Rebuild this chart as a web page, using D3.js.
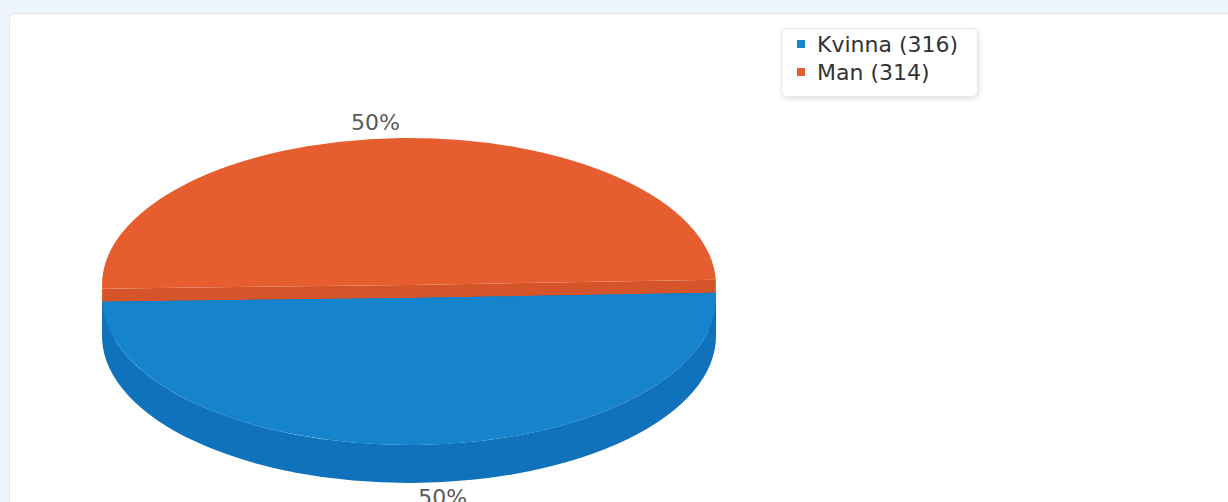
<!DOCTYPE html>
<html><head><meta charset="utf-8">
<script src="https://cdn.jsdelivr.net/npm/d3@7"></script>
<style>
html,body{margin:0;padding:0;background:#edf4fc;overflow:hidden;}
svg{display:block;font-family:"DejaVu Sans",Verdana,sans-serif;}
</style></head>
<body>
<svg id="chart" width="1228" height="502"></svg>
<script>
const categories = ["Kvinna", "Man"];
const values = [316, 314];
const topColors = ["#1584cc", "#e65e30"];
const wallColors = ["#0f72bb", "#d6542a"];

const svg = d3.select("#chart");

// panel
const defs = svg.append("defs");
const f = defs.append("filter").attr("id","sh").attr("x","-10%").attr("y","-10%").attr("width","130%").attr("height","140%");
f.append("feDropShadow").attr("dx",1).attr("dy",2).attr("stdDeviation",2).attr("flood-color","#000").attr("flood-opacity",0.12);

svg.append("rect").attr("x",9.5).attr("y",13.5).attr("width",1400).attr("height",700)
  .attr("rx",6).attr("fill","#fff").attr("stroke","#e3e6ea");

// pie geometry
const cx = 409, cy = 285, rx = 307, ry = 147, depth = 38;
const explode = [13, 0];      // vertical pull-out per slice
const rotation = 88;          // degrees
const labelShift = -4, labelK = 1.1;

const pie = d3.pie().sort(null).value(d => d);
const arcs = pie(values);
const deg = r => r * 180 / Math.PI;
const toTheta = a => deg(a) - 90 + rotation;       // screen angle (deg), y down
const P = (t, dy=0) => {
  const r = t * Math.PI / 180;
  return [cx + rx * Math.cos(r), cy + dy + ry * Math.sin(r)];
};
const fmt = d3.format(".0%");
const total = d3.sum(values);

function topPath(t1, t2, dy) {
  const a = P(t1, dy), b = P(t2, dy);
  const large = (t2 - t1) > 180 ? 1 : 0;
  return `M${cx},${cy+dy}L${a[0]},${a[1]}A${rx},${ry} 0 ${large} 1 ${b[0]},${b[1]}Z`;
}
function wallPath(t1, t2, dy) {
  const segs = [];
  for (const off of [-360, 0, 360]) {
    const s = Math.max(t1 + off, 0), e = Math.min(t2 + off, 180);
    if (e > s) segs.push([s, e]);
  }
  return segs.map(([s, e]) => {
    const a = P(s, dy), b = P(e, dy), c = P(e, dy + depth), d = P(s, dy + depth);
    const large = (e - s) > 180 ? 1 : 0;
    return `M${a[0]},${a[1]}A${rx},${ry} 0 ${large} 1 ${b[0]},${b[1]}L${c[0]},${c[1]}A${rx},${ry} 0 ${large} 0 ${d[0]},${d[1]}Z`;
  }).join("");
}
function cutWall(t, dy) {
  const p = P(t, dy), q = P(t, dy + depth);
  return `M${cx},${cy+dy}L${p[0]},${p[1]}L${q[0]},${q[1]}L${cx},${cy+dy+depth}Z`;
}

const g = svg.append("g");
const order = [1, 0];
order.forEach(i => {
  const d = arcs[i];
  const t1 = toTheta(d.startAngle), t2 = toTheta(d.endAngle);
  const dy = explode[i];
  const sg = g.append("g");
  sg.append("path").attr("d", cutWall(t1, dy)).attr("fill", wallColors[i]);
  sg.append("path").attr("d", cutWall(t2, dy)).attr("fill", wallColors[i]);
  sg.append("path").attr("d", wallPath(t1, t2, dy)).attr("fill", wallColors[i]);
  sg.append("path").attr("d", topPath(t1, t2, dy)).attr("fill", topColors[i]);
});

// labels
arcs.forEach((d, i) => {
  const tm = toTheta((d.startAngle + d.endAngle) / 2) + labelShift;
  const r = tm * Math.PI / 180;
  const s = Math.sin(r);
  const x = cx + labelK * rx * Math.cos(r);
  const y = cy + explode[i] + (s > 0 ? depth : 0) + labelK * ry * s;
  svg.append("text").attr("x", x).attr("y", y + (s > 0 ? 8 : 6))
    .attr("text-anchor", "middle").attr("font-size", 22).attr("fill", "#5a5a5a")
    .text(fmt(values[i] / total));
});

// legend
const lg = svg.append("g").attr("transform", "translate(781,28)");
lg.append("rect").attr("x", 0.5).attr("y", 0.5).attr("width", 196).attr("height", 68)
  .attr("rx", 5).attr("fill", "#fff").attr("stroke", "#e6e6e6").attr("filter", "url(#sh)");
categories.forEach((c, i) => {
  const yy = 24 + i * 28;
  lg.append("rect").attr("x", 16).attr("y", yy - 12).attr("width", 8).attr("height", 8).attr("fill", topColors[i]);
  lg.append("text").attr("x", 36).attr("y", yy).attr("font-size", 22).attr("fill", "#333")
    .text(`${c} (${values[i]})`);
});
</script>
</body></html>
